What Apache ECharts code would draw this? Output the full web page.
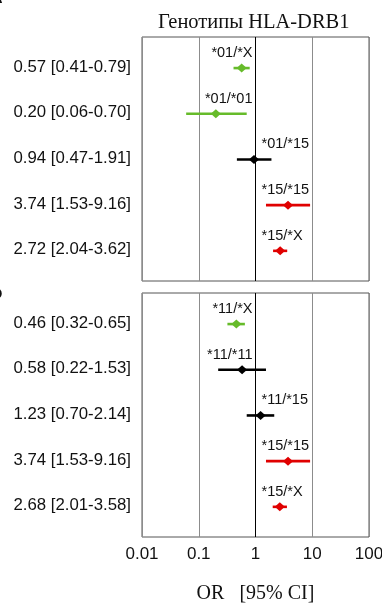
<!DOCTYPE html>
<html>
<head>
<meta charset="utf-8">
<title>Генотипы HLA-DRB1</title>
<script src="https://cdn.jsdelivr.net/npm/echarts@6/dist/echarts.min.js"></script>
<style>
  html, body { margin: 0; padding: 0; background: #fff; }
  #chart { width: 382px; height: 605px; }
</style>
</head>
<body>
<div id="chart"></div>
<script>
// Panel А: DRB1*01 genotypes
const genotypesA = ['*01/*X', '*01/*01', '*01/*15', '*15/*15', '*15/*X'];
const orA = [0.57, 0.20, 0.94, 3.74, 2.72];
const lowA = [0.41, 0.06, 0.47, 1.53, 2.04];
const highA = [0.79, 0.70, 1.91, 9.16, 3.62];
const effectA = ['protective', 'protective', 'neutral', 'risk', 'risk'];

// Panel Б: DRB1*11 genotypes
const genotypesB = ['*11/*X', '*11/*11', '*11/*15', '*15/*15', '*15/*X'];
const orB = [0.46, 0.58, 1.23, 3.74, 2.68];
const lowB = [0.32, 0.22, 0.70, 1.53, 2.01];
const highB = [0.65, 1.53, 2.14, 9.16, 3.58];
const effectB = ['protective', 'neutral', 'neutral', 'risk', 'risk'];

// Shared axis text
const tickLabels = ['0.01', '0.1', '1', '10', '100'];
const titleText = 'Генотипы HLA-DRB1';
const axisTitle = 'OR   [95% CI]';
const panelLetters = ['А', 'Б'];

const effectColor = { protective: '#66bb2a', neutral: '#000000', risk: '#e00000' };
const SANS = 'Liberation Sans, Arial, sans-serif';
const SERIF = 'Liberation Serif, Times New Roman, serif';

function panelData(genotypes, or, low, high, effect) {
  return genotypes.map((g, i) => [low[i], high[i], or[i], i, g, effect[i]]);
}

function fmt(v) { return v.toFixed(2); }

function renderRow(params, api) {
  const lo = api.value(0), hi = api.value(1), or = api.value(2), row = api.value(3);
  const name = api.value(4), effect = api.value(5);
  const color = effectColor[effect];
  const p0 = api.coord([lo, row]);
  const p1 = api.coord([hi, row]);
  const c = api.coord([or, row]);
  const ref = api.coord([1, row]);
  const y = c[1];
  // genotype names sit on the left of the OR = 1 line for clearly protective rows
  const leftOfRef = or < 0.9;
  const hw = 5, hh = 4.5;
  return {
    type: 'group',
    children: [
      {
        type: 'line',
        shape: { x1: p0[0], y1: y, x2: p1[0], y2: y },
        style: { stroke: color, lineWidth: 2.6 }
      },
      {
        type: 'polygon',
        shape: { points: [[c[0] - hw, y], [c[0], y - hh], [c[0] + hw, y], [c[0], y + hh]] },
        style: { fill: color }
      },
      {
        type: 'text',
        style: {
          x: leftOfRef ? ref[0] - 3 : ref[0] + 6,
          y: y - 15,
          text: name,
          align: leftOfRef ? 'right' : 'left',
          verticalAlign: 'middle',
          fill: '#111',
          font: '14.5px ' + SANS
        }
      },
      {
        type: 'text',
        style: {
          x: params.coordSys.x - 11,
          y: y - 1,
          text: fmt(or) + ' [' + fmt(lo) + '-' + fmt(hi) + ']',
          align: 'right',
          verticalAlign: 'middle',
          fill: '#111',
          font: '16.8px ' + SANS
        }
      }
    ]
  };
}

function xAxisFor(gridIndex, showLabels) {
  return {
    type: 'log',
    logBase: 10,
    gridIndex: gridIndex,
    min: 0.01,
    max: 100,
    axisLine: { show: false },
    axisTick: { show: false },
    splitLine: { show: true, lineStyle: { color: '#8c8c8c', width: 1 } },
    axisLabel: {
      show: showLabels,
      margin: 9,
      fontSize: 17,
      fontFamily: SANS,
      color: '#111',
      formatter: v => tickLabels[Math.round(Math.log10(v)) + 2]
    },
    name: showLabels ? axisTitle : '',
    nameLocation: 'middle',
    nameGap: 47,
    nameTextStyle: { fontFamily: SERIF, fontSize: 20, color: '#111' }
  };
}

function yAxisFor(gridIndex) {
  return { type: 'value', gridIndex: gridIndex, inverse: true, min: -0.68, max: 4.66, show: false };
}

function seriesFor(idx, data) {
  return {
    type: 'custom',
    xAxisIndex: idx,
    yAxisIndex: idx,
    renderItem: renderRow,
    encode: { x: [0, 1, 2], y: 3 },
    data: data,
    clip: false,
    silent: true,
    markLine: {
      silent: true,
      symbol: 'none',
      label: { show: false },
      lineStyle: { color: '#000', width: 1, type: 'solid' },
      data: [{ xAxis: 1 }]
    }
  };
}

const gridBase = {
  left: 142, right: 13, height: 244,
  show: true, borderColor: '#555', borderWidth: 1, backgroundColor: 'transparent',
  containLabel: false, outerBoundsMode: 'none'
};

const chart = echarts.init(document.getElementById('chart'), null, { renderer: 'canvas' });
chart.setOption({
  animation: false,
  backgroundColor: '#fff',
  title: {
    text: titleText,
    left: 158,
    top: 12,
    padding: 0,
    textStyle: { fontFamily: SERIF, fontSize: 20.5, fontWeight: 'normal', color: '#111' }
  },
  graphic: [
    { type: 'text', left: -16, top: -17, style: { text: panelLetters[0], font: 'bold 26px ' + SANS, fill: '#111' } },
    { type: 'text', left: -16, top: 279, style: { text: panelLetters[1], font: 'bold 26px ' + SANS, fill: '#111' } }
  ],
  grid: [
    Object.assign({}, gridBase, { top: 37 }),
    Object.assign({}, gridBase, { top: 293 })
  ],
  xAxis: [xAxisFor(0, false), xAxisFor(1, true)],
  yAxis: [yAxisFor(0), yAxisFor(1)],
  series: [
    seriesFor(0, panelData(genotypesA, orA, lowA, highA, effectA)),
    seriesFor(1, panelData(genotypesB, orB, lowB, highB, effectB))
  ]
});
</script>
</body>
</html>
